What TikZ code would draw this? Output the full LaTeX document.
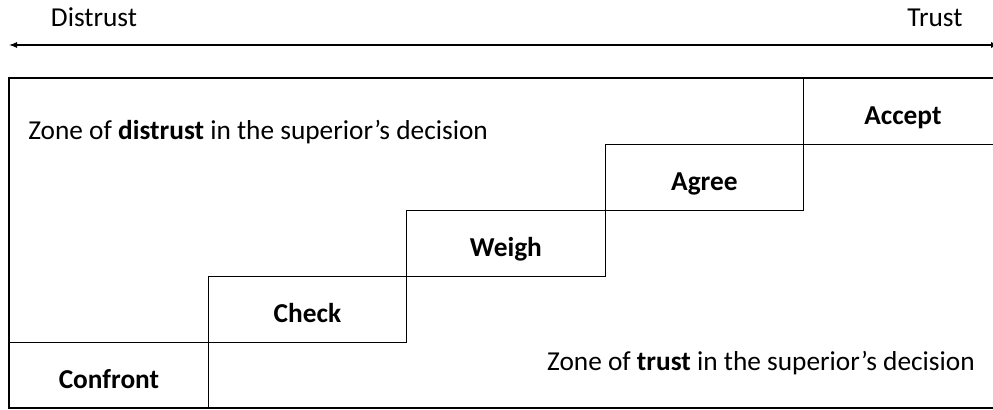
\documentclass[tikz,border=0pt]{standalone}
\usepackage{fontspec}
\setmainfont{Carlito}
\usetikzlibrary{positioning,arrows.meta}

\begin{document}
\begin{tikzpicture}[x=0.75pt,y=-0.75pt,
	stepbox/.style={draw,line width=1pt,anchor=north west,inner sep=0pt,
		minimum width=148.9pt,minimum height=49.5pt,
		text height=19.5pt,text depth=0pt,font=\fontsize{20.5}{24}\selectfont\bfseries},
	zonetxt/.style={inner sep=0pt,font=\fontsize{20.5}{24}\selectfont}]
	\useasboundingbox (0,0) rectangle (993,410);
	
	% trục tin tưởng
	\coordinate (axl) at (9,45);
	\coordinate (axr) at (999,45);
	\draw[line width=0.8pt,{Latex[length=6pt,width=4.5pt]}-{Latex[length=6pt,width=4.5pt]}] (axl) -- (axr);
	\node[zonetxt,anchor=base] (distrust) at (94,27) {Distrust};
	\node[zonetxt,anchor=base] (trust) at (935,27) {Trust};
	
	% khung ngoài
	\draw[line width=1pt] (1010,78) -- (9,78) -- (9,408) -- (1010,408);
	
	% các bậc thang
	\foreach \lbl [count=\i from 0] in {Confront,Check,Weigh,Agree,Accept} {
		\node[stepbox] (step\i) at (9+198.5*\i,342-66*\i) {\lbl};
	}
	
	% hai vùng
	\node[zonetxt,anchor=base west] (zdis) at (28,139) {Zone of \textbf{distrust} in the superior’s decision};
	\node[zonetxt,anchor=base east] (ztru) at (975,370) {Zone of \textbf{trust} in the superior’s decision};
\end{tikzpicture}
\end{document}
